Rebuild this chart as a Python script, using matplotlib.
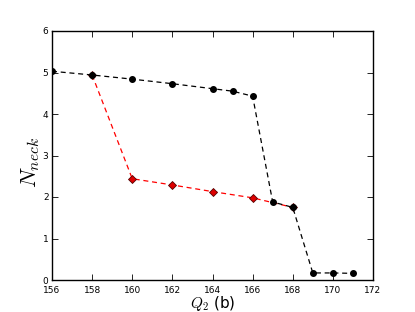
import matplotlib
matplotlib.use("Agg")
import matplotlib.pyplot as plt

plt.rcParams['mathtext.fontset'] = 'cm'

q2_black = [156, 158, 160, 162, 164, 165, 166, 167, 168, 169, 170, 171]
n_black = [5.03, 4.94, 4.84, 4.73, 4.61, 4.55, 4.43, 1.88, 1.75, 0.17, 0.17, 0.16]

q2_red = [158, 160, 162, 164, 166, 168]
n_red = [4.94, 2.44, 2.29, 2.13, 1.98, 1.75]

xticks = [156, 158, 160, 162, 164, 166, 168, 170, 172]
yticks = [0, 1, 2, 3, 4, 5, 6]

fig = plt.figure(figsize=(4.15, 3.12), dpi=100)
ax = fig.add_axes([52/415, 1 - 280/312, (373-52)/415, (280-31)/312])

ax.plot(q2_red, n_red, linestyle='--', color='red', marker='D', markersize=4,
        markerfacecolor='#dd0000', markeredgecolor='#550000', markeredgewidth=0.6,
        linewidth=0.9, dashes=(4, 3))
ax.plot(q2_black, n_black, linestyle='--', color='black', marker='o', markersize=4,
        linewidth=0.9, dashes=(4, 3))

ax.set_xlim(156, 172)
ax.set_ylim(0, 6)
ax.set_xticks(xticks)
ax.set_yticks(yticks)
ax.tick_params(direction='in', labelsize=6.5, top=True, right=True, length=4, width=0.6)
ax.tick_params(axis='x', pad=4)
ax.tick_params(axis='y', pad=2.5)
for s in ax.spines.values():
    s.set_linewidth(1.0)
ax.set_xlabel(r'$Q_2$ (b)', fontsize=11)
ax.xaxis.set_label_coords(0.5, -0.058)
ax.set_ylabel(r'$N_{neck}$', fontsize=16)
ax.yaxis.set_label_coords(-0.03, 0.47)

fig.savefig('out.png', dpi=100)
